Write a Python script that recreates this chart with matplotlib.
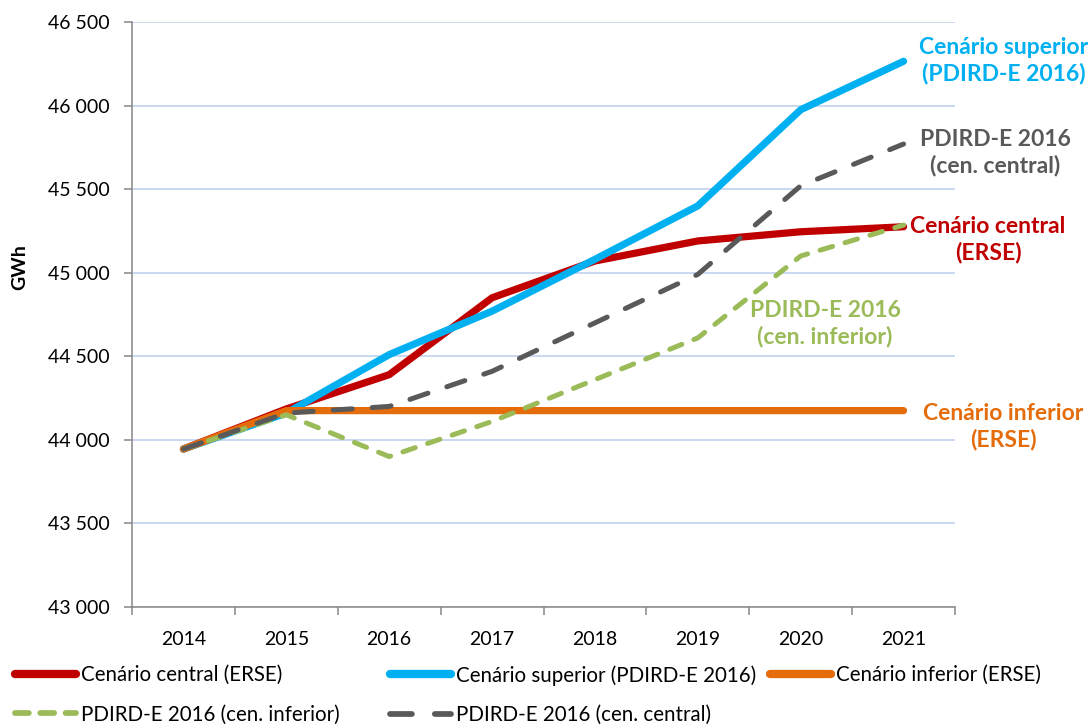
import matplotlib
matplotlib.use("Agg")
import matplotlib.pyplot as plt
from matplotlib.ticker import FixedLocator, FuncFormatter
import numpy as np

# ---- data (GWh) ----
years = ["2014", "2015", "2016", "2017", "2018", "2019", "2020", "2021"]
central_erse = [43945, 44185, 44390, 44850, 45070, 45190, 45245, 45275]
superior_pdird = [43945, 44160, 44510, 44770, 45080, 45400, 45975, 46265]
inferior_erse = [43945, 44175, 44175, 44175, 44175, 44175, 44175, 44175]
pdird_cen_inferior = [43945, 44150, 43900, 44110, 44360, 44610, 45100, 45285]
pdird_cen_central = [43945, 44160, 44200, 44410, 44700, 44990, 45520, 45770]
y_ticks = [43000, 43500, 44000, 44500, 45000, 45500, 46000, 46500]

legend_labels = [
    "Cenário central (ERSE)",
    "Cenário superior (PDIRD-E 2016)",
    "Cenário inferior (ERSE)",
    "PDIRD-E 2016 (cen. inferior)",
    "PDIRD-E 2016 (cen. central)",
]

RED = "#c00000"
BLUE = "#00b0f0"
ORANGE = "#e46c0a"
GREEN = "#9bbb59"
GREY = "#595959"
AXIS = "#868686"
GRID = "#bccdee"

plt.rcParams["font.family"] = ["Lato", "DejaVu Sans"]
TICK_FS = 14
LEG_FS = 14.8

W, H = 1091, 726
fig = plt.figure(figsize=(W / 100, H / 100), dpi=100)


def fx(px):
    return px / W


def fy(py):
    return 1 - py / H


ax = fig.add_axes([fx(132), fy(607), fx(955) - fx(132), fy(22) - fy(607)])

x = np.arange(len(years))
l_central, = ax.plot(x, central_erse, color=RED, lw=5.2,
                     solid_capstyle="round", solid_joinstyle="round", zorder=3)
l_sup, = ax.plot(x, superior_pdird, color=BLUE, lw=5.2,
                 solid_capstyle="round", solid_joinstyle="round", zorder=4)
l_inf, = ax.plot(x, inferior_erse, color=ORANGE, lw=5.2,
                 solid_capstyle="round", solid_joinstyle="round", zorder=5)
l_pinf, = ax.plot(x, pdird_cen_inferior, color=GREEN, lw=3.6,
                  dash_capstyle="round", dash_joinstyle="round",
                  dashes=(2.6, 2.6), zorder=6)
l_pcen, = ax.plot(x, pdird_cen_central, color=GREY, lw=3.6,
                  dash_capstyle="round", dash_joinstyle="round",
                  dashes=(3.8, 4.0), zorder=7)

ax.set_xlim(-0.5, len(years) - 0.5)
ax.set_ylim(y_ticks[0], y_ticks[-1])

# y axis
ax.yaxis.set_major_locator(FixedLocator(y_ticks))
ax.yaxis.set_major_formatter(FuncFormatter(lambda v, p: f"{int(v):,}".replace(",", " ")))
ax.tick_params(axis="y", direction="out", length=6, width=1.1, color=AXIS,
               labelsize=TICK_FS, labelcolor="black", pad=10)
ax.grid(axis="y", color=GRID, lw=1.1, zorder=0)
ax.set_axisbelow(True)

# x axis: labels at category centres, tick marks at boundaries
ax.set_xticks(x)
ax.set_xticklabels(years)
ax.set_xticks(np.arange(-0.5, len(years)), minor=True)
ax.tick_params(axis="x", which="major", length=0, labelsize=TICK_FS, pad=17)
ax.tick_params(axis="x", which="minor", direction="out", length=6, width=1.1, color=AXIS)

for side in ("top", "right"):
    ax.spines[side].set_visible(False)
for side in ("left", "bottom"):
    ax.spines[side].set_color(AXIS)
    ax.spines[side].set_linewidth(1.1)

fig.text(fx(20), fy(267), "GWh", rotation=90, ha="center", va="center",
         fontsize=14, fontweight="bold")

# series labels at the right
ANN_FS = 16.5
fig.text(fx(1004), fy(60.5), "Cenário superior\n(PDIRD-E 2016)", color=BLUE,
         ha="center", va="center", fontsize=ANN_FS, fontweight="bold", linespacing=1.25)
fig.text(fx(995), fy(152.5), "PDIRD-E 2016\n(cen. central)", color=GREY,
         ha="center", va="center", fontsize=ANN_FS, fontweight="bold", linespacing=1.25)
fig.text(fx(988), fy(239.5), "Cenário central\n(ERSE)", color=RED,
         ha="center", va="center", fontsize=ANN_FS, fontweight="bold", linespacing=1.25)
fig.text(fx(825), fy(323.5), "PDIRD-E 2016\n(cen. inferior)", color=GREEN,
         ha="center", va="center", fontsize=ANN_FS, fontweight="bold", linespacing=1.25)
fig.text(fx(1003), fy(426.5), "Cenário inferior\n(ERSE)", color=ORANGE,
         ha="center", va="center", fontsize=ANN_FS, fontweight="bold", linespacing=1.25)

# legend in three columns at the bottom
leg_kw = dict(loc="upper left", frameon=False, fontsize=LEG_FS, borderpad=0,
              borderaxespad=0, handlelength=2.95, handletextpad=0.25,
              labelspacing=0.95)
columns = [
    ([l_central, l_pinf], [legend_labels[0], legend_labels[3]], 15),
    ([l_sup, l_pcen], [legend_labels[1], legend_labels[4]], 390),
    ([l_inf], [legend_labels[2]], 770),
]
for handles, labels, left in columns:
    lg = fig.legend(handles, labels, bbox_to_anchor=(fx(left), fy(665)), **leg_kw)
    for h in lg.legend_handles:
        h.set_linewidth(h.get_linewidth() * 1.15)
        if h.get_color() == GREEN:
            h.set_dashes((2.4, 2.0))

fig.savefig("out.png", dpi=100)
